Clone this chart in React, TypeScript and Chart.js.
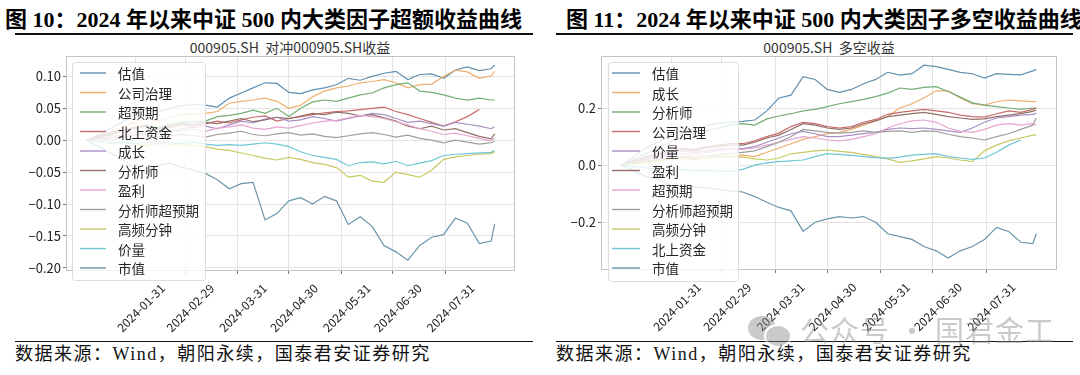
import React, { useEffect, useRef } from "react";
import { Chart, registerables } from "chart.js";
Chart.register(...registerables);

// ---- data ----
const tradeDays = [2, 9, 16, 23, 30, 37, 44, 51, 58, 65, 72, 79, 86, 93, 100, 107, 114, 121, 128, 135, 142, 149, 156, 163, 170, 177, 184, 191, 198, 205, 212, 219, 226, 233, 240, 242];
const monthEndDays = [31, 60, 91, 121, 152, 182, 213];
const monthEndLabels = ["2024-01-31", "2024-02-29", "2024-03-31", "2024-04-30", "2024-05-31", "2024-06-30", "2024-07-31"];

const leftYTicks = [-0.2, -0.15, -0.1, -0.05, 0, 0.05, 0.1];
const rightYTicks = [-0.2, 0, 0.2];

const leftNames = ["估值", "公司治理", "超预期", "北上资金", "成长", "分析师", "盈利", "分析师超预期", "高频分钟", "价量", "市值"];
const rightNames = ["估值", "成长", "分析师", "公司治理", "价量", "盈利", "超预期", "分析师超预期", "高频分钟", "北上资金", "市值"];

// excess return vs 000905.SH
const exValuation = [0, 0.008, 0.018, 0.028, 0.04, 0.048, 0.044, 0.05, 0.054, 0.056, 0.055, 0.052, 0.066, 0.074, 0.082, 0.09, 0.089, 0.075, 0.073, 0.079, 0.082, 0.087, 0.097, 0.094, 0.1, 0.105, 0.108, 0.095, 0.103, 0.104, 0.097, 0.11, 0.115, 0.109, 0.112, 0.118];
const exGovernance = [0, 0.004, 0.012, 0.02, 0.028, 0.034, 0.03, 0.036, 0.04, 0.041, 0.042, 0.045, 0.058, 0.061, 0.063, 0.066, 0.061, 0.05, 0.055, 0.068, 0.077, 0.082, 0.085, 0.09, 0.092, 0.095, 0.09, 0.082, 0.087, 0.088, 0.1, 0.11, 0.107, 0.097, 0.101, 0.108];
const exSurprise = [0, 0.004, 0.008, 0.014, 0.02, 0.024, 0.02, 0.025, 0.028, 0.029, 0.03, 0.037, 0.039, 0.042, 0.047, 0.042, 0.05, 0.037, 0.05, 0.06, 0.063, 0.061, 0.066, 0.071, 0.074, 0.082, 0.087, 0.09, 0.077, 0.075, 0.071, 0.066, 0.063, 0.066, 0.063, 0.063];
const exNorthbound = [0, 0.006, 0.012, 0.016, 0.02, 0.022, 0.018, 0.02, 0.024, 0.022, 0.026, 0.03, 0.027, 0.032, 0.036, 0.038, 0.03, 0.034, 0.037, 0.04, 0.043, 0.045, 0.046, 0.048, 0.05, 0.052, 0.045, 0.04, 0.034, 0.028, 0.022, 0.029, 0.037, 0.048, null, null];
const exGrowth = [0, 0.003, 0.0, 0.004, 0.008, 0.012, 0.01, 0.014, 0.018, 0.02, 0.022, 0.018, 0.024, 0.03, 0.027, 0.033, 0.036, 0.03, 0.032, 0.037, 0.034, 0.03, 0.034, 0.038, 0.042, 0.04, 0.034, 0.028, 0.03, 0.026, 0.022, 0.028, 0.025, 0.022, 0.018, 0.021];
const exAnalyst = [0, 0.005, 0.01, 0.014, 0.018, 0.022, 0.018, 0.022, 0.026, 0.025, 0.028, 0.026, 0.03, 0.034, 0.029, 0.032, 0.036, 0.034, 0.038, 0.042, 0.04, 0.044, 0.042, 0.038, 0.04, 0.035, 0.03, 0.022, 0.018, 0.022, 0.016, 0.018, 0.012, 0.006, 0.002, 0.01];
const exProfit = [0, 0.002, 0.006, 0.008, 0.011, 0.014, 0.011, 0.013, 0.015, 0.017, 0.014, 0.019, 0.021, 0.024, 0.019, 0.017, 0.021, 0.019, 0.023, 0.027, 0.03, 0.031, 0.035, 0.039, 0.037, 0.034, 0.029, 0.024, 0.018, 0.014, 0.009, 0.011, 0.007, 0.003, -0.001, 0.003];
const exAnalystSurprise = [0, 0.002, 0.004, 0.005, 0.007, 0.009, 0.005, 0.007, 0.009, 0.007, 0.005, 0.009, 0.011, 0.014, 0.009, 0.007, 0.01, 0.012, 0.008, 0.01, 0.006, 0.004, 0.007, 0.01, 0.012, 0.009, 0.005, 0.008, 0.003, 0.0, -0.004, 0.0, -0.003, -0.006, -0.004, -0.002];
const exHighFreq = [0, -0.002, -0.005, -0.004, -0.006, -0.008, -0.005, -0.006, -0.008, -0.008, -0.01, -0.014, -0.016, -0.02, -0.024, -0.028, -0.031, -0.027, -0.03, -0.035, -0.038, -0.043, -0.058, -0.055, -0.064, -0.066, -0.05, -0.054, -0.058, -0.047, -0.03, -0.026, -0.024, -0.022, -0.021, -0.018];
const exPriceVolume = [0, -0.002, -0.004, -0.003, -0.005, -0.004, -0.002, -0.004, -0.005, -0.003, -0.006, -0.008, -0.007, -0.008, -0.006, -0.004, -0.006, -0.01, -0.018, -0.024, -0.027, -0.03, -0.04, -0.035, -0.034, -0.037, -0.033, -0.04, -0.036, -0.032, -0.024, -0.022, -0.021, -0.02, -0.019, -0.016];
const exSize = [0, -0.01, -0.02, -0.03, -0.044, -0.05, -0.04, -0.036, -0.042, -0.047, -0.052, -0.062, -0.076, -0.068, -0.066, -0.125, -0.115, -0.095, -0.09, -0.1, -0.088, -0.095, -0.132, -0.12, -0.135, -0.165, -0.175, -0.188, -0.165, -0.152, -0.148, -0.122, -0.13, -0.162, -0.158, -0.131];

// long-short return
const lsValuation = [0, 0.03, 0.06, 0.08, 0.105, 0.12, 0.125, 0.138, 0.148, 0.15, 0.153, 0.158, 0.19, 0.235, 0.245, 0.31, 0.3, 0.265, 0.255, 0.265, 0.285, 0.3, 0.325, 0.315, 0.32, 0.35, 0.345, 0.335, 0.325, 0.32, 0.305, 0.32, 0.318, 0.316, 0.33, 0.335];
const lsGrowth = [0, 0.005, 0.01, 0.015, 0.02, 0.025, 0.02, 0.025, 0.03, 0.03, 0.035, 0.03, 0.045, 0.06, 0.075, 0.09, 0.1, 0.11, 0.115, 0.125, 0.14, 0.155, 0.17, 0.2, 0.215, 0.235, 0.26, 0.26, 0.235, 0.215, 0.21, 0.222, 0.228, 0.225, 0.222, 0.222];
const lsAnalyst = [0, 0.02, 0.04, 0.06, 0.08, 0.1, 0.11, 0.12, 0.13, 0.14, 0.145, 0.14, 0.162, 0.172, 0.18, 0.19, 0.195, 0.205, 0.215, 0.222, 0.23, 0.24, 0.252, 0.27, 0.265, 0.272, 0.275, 0.258, 0.238, 0.218, 0.21, 0.205, 0.2, 0.195, 0.2, 0.199];
const lsGovernance = [0, 0.015, 0.03, 0.04, 0.05, 0.06, 0.055, 0.065, 0.07, 0.075, 0.075, 0.085, 0.1, 0.112, 0.135, 0.15, 0.145, 0.135, 0.13, 0.135, 0.15, 0.16, 0.178, 0.185, 0.19, 0.195, 0.19, 0.185, 0.175, 0.17, 0.168, 0.18, 0.19, 0.185, 0.195, 0.2];
const lsPriceVolume = [0, 0.01, 0.02, 0.03, 0.04, 0.05, 0.045, 0.05, 0.055, 0.06, 0.058, 0.065, 0.08, 0.095, 0.11, 0.118, 0.11, 0.1, 0.1, 0.105, 0.11, 0.115, 0.125, 0.13, 0.128, 0.13, 0.125, 0.12, 0.115, 0.13, 0.15, 0.165, 0.17, 0.175, 0.178, 0.181];
const lsProfit = [0, 0.012, 0.025, 0.035, 0.045, 0.055, 0.05, 0.06, 0.065, 0.07, 0.07, 0.08, 0.095, 0.105, 0.125, 0.145, 0.14, 0.13, 0.125, 0.13, 0.145, 0.155, 0.17, 0.175, 0.18, 0.185, 0.178, 0.17, 0.165, 0.16, 0.162, 0.17, 0.175, 0.18, 0.188, 0.193];
const lsSurprise = [0, 0.01, 0.018, 0.025, 0.035, 0.04, 0.038, 0.045, 0.05, 0.055, 0.055, 0.06, 0.07, 0.08, 0.09, 0.1, 0.095, 0.088, 0.085, 0.09, 0.1, 0.11, 0.13, 0.145, 0.155, 0.158, 0.15, 0.13, 0.118, 0.115, 0.125, 0.14, 0.145, 0.14, 0.145, 0.14];
const lsAnalystSurprise = [0, 0.008, 0.015, 0.02, 0.025, 0.03, 0.028, 0.032, 0.035, 0.04, 0.045, 0.05, 0.065, 0.08, 0.1, 0.125, 0.12, 0.115, 0.112, 0.115, 0.12, 0.115, 0.118, 0.12, 0.115, 0.12, 0.118, 0.108, 0.1, 0.095, 0.088, 0.1, 0.11, 0.125, 0.14, 0.165];
const lsHighFreq = [0, 0.005, 0.01, 0.015, 0.02, 0.025, 0.022, 0.025, 0.028, 0.03, 0.028, 0.022, 0.018, 0.025, 0.04, 0.045, 0.05, 0.053, 0.048, 0.045, 0.038, 0.03, 0.022, 0.01, 0.015, 0.022, 0.03, 0.025, 0.018, 0.012, 0.05, 0.07, 0.085, 0.095, 0.105, 0.105];
const lsNorthbound = [0, -0.005, -0.01, -0.015, -0.02, -0.015, -0.02, -0.018, -0.02, -0.022, -0.015, 0.0, 0.008, 0.012, 0.015, 0.018, 0.03, 0.04, 0.038, 0.034, 0.03, 0.026, 0.024, 0.028, 0.035, 0.038, 0.04, 0.03, 0.025, 0.02, 0.025, 0.045, 0.07, 0.088, null, null];
const lsSize = [0, -0.02, -0.04, -0.05, -0.07, -0.085, -0.075, -0.08, -0.085, -0.09, -0.094, -0.11, -0.13, -0.148, -0.16, -0.232, -0.2, -0.188, -0.18, -0.185, -0.18, -0.2, -0.24, -0.25, -0.26, -0.285, -0.3, -0.325, -0.3, -0.285, -0.26, -0.218, -0.232, -0.27, -0.275, -0.24];

const leftSeries = [exValuation, exGovernance, exSurprise, exNorthbound, exGrowth, exAnalyst, exProfit, exAnalystSurprise, exHighFreq, exPriceVolume, exSize];
const rightSeries = [lsValuation, lsGrowth, lsAnalyst, lsGovernance, lsPriceVolume, lsProfit, lsSurprise, lsAnalystSurprise, lsHighFreq, lsNorthbound, lsSize];

// ---- styles ----
const palette = ["#6390b0", "#f0ae6e", "#74ae74", "#c86a6a", "#a990c4", "#927068", "#e5a5cf", "#9e9e9e", "#c8c862", "#6fc6d4", "#6a95ab"];
const tickFont = '"Noto Sans CJK SC", "Noto Sans", sans-serif';

type Cfg = {
  names: string[];
  series: (number | null)[][];
  yMin: number;
  yMax: number;
  yTicks: number[];
  fmt: (v: number) => string;
  yWidth: number;
  padR: number;
  xHeight: number;
  legend: { x: number; y: number; w: number; h: number; lx0: number; lx1: number; tx: number; ry: number; step: number };
};

function LineChart({ cfg, left }: { cfg: Cfg; left: number }) {
  const ref = useRef<HTMLCanvasElement>(null);
  useEffect(() => {
    const canvas = ref.current;
    if (!canvas) return;
    const n = cfg.names.length;
    const datasets = cfg.names.map((name, i) => ({
      label: name,
      data: tradeDays.map((d, j) => ({ x: d, y: cfg.series[i][j] })),
      borderColor: palette[i],
      backgroundColor: palette[i],
      borderWidth: 1.2,
      pointRadius: 0,
      tension: 0,
      spanGaps: false,
      order: n - i,
    }));
    const frame = {
      id: "frame",
      afterDatasetsDraw(chart: any) {
        const { ctx, chartArea: a } = chart;
        ctx.save();
        ctx.strokeStyle = "#c4c4c4";
        ctx.lineWidth = 1;
        ctx.strokeRect(a.left + 0.5, a.top + 0.5, a.right - a.left - 1, a.bottom - a.top - 1);
        ctx.restore();
      },
    };
    const L = cfg.legend;
    const legendPlugin = {
      id: "boxLegend",
      afterDraw(chart: any) {
        const ctx = chart.ctx;
        ctx.save();
        ctx.fillStyle = "rgba(255,255,255,0.8)";
        ctx.strokeStyle = "#dcdcdc";
        ctx.lineWidth = 1;
        ctx.beginPath();
        (ctx as any).roundRect(L.x + 0.5, L.y + 0.5, L.w, L.h, 3);
        ctx.fill();
        ctx.stroke();
        ctx.font = '13.5px "Noto Sans CJK SC"';
        ctx.textBaseline = "middle";
        cfg.names.forEach((name, i) => {
          const y = L.ry + i * L.step;
          ctx.strokeStyle = palette[i];
          ctx.lineWidth = 1.4;
          ctx.beginPath();
          ctx.moveTo(L.lx0, y);
          ctx.lineTo(L.lx1, y);
          ctx.stroke();
          ctx.fillStyle = "#262626";
          ctx.fillText(name, L.tx, y + 1);
        });
        ctx.restore();
      },
    };
    const chart = new Chart(canvas, {
      type: "line",
      data: { datasets },
      plugins: [frame, legendPlugin],
      options: {
        animation: false,
        responsive: false,
        devicePixelRatio: 1,
        layout: { padding: { left: 0, right: cfg.padR, top: 16, bottom: 0 } },
        plugins: { legend: { display: false }, tooltip: { enabled: false }, title: { display: false } },
        scales: {
          x: {
            type: "linear",
            min: -10,
            max: 254,
            afterBuildTicks: (s: any) => {
              s.ticks = monthEndDays.map((v) => ({ value: v }));
            },
            afterFit: (s: any) => {
              s.height = cfg.xHeight;
            },
            grid: { color: "#e4e4e4", lineWidth: 1, drawTicks: true, tickLength: 3, tickColor: "#777" },
            border: { display: false },
            ticks: {
              autoSkip: false,
              minRotation: 45,
              maxRotation: 45,
              labelOffset: 27,
              padding: 7,
              color: "#222",
              font: { family: tickFont, size: 12 },
              callback: (_v: any, i: number) => monthEndLabels[i],
            },
          },
          y: {
            type: "linear",
            min: cfg.yMin,
            max: cfg.yMax,
            afterBuildTicks: (s: any) => {
              s.ticks = cfg.yTicks.map((v) => ({ value: v }));
            },
            afterFit: (s: any) => {
              s.width = cfg.yWidth;
            },
            grid: { color: "#e4e4e4", lineWidth: 1, drawTicks: true, tickLength: 3, tickColor: "#777" },
            border: { display: false },
            ticks: {
              padding: 2,
              color: "#222",
              font: { family: tickFont, size: 13 },
              callback: (v: any) => cfg.fmt(Number(v)),
            },
          },
        },
      },
    } as any);
    return () => chart.destroy();
  }, []);
  return <canvas ref={ref} width={540} height={300} style={{ position: "absolute", left, top: 40, width: 540, height: 300 }} />;
}

const minus = (v: number, d: number) => (v < 0 ? "\u2212" : "") + Math.abs(v).toFixed(d);

const leftCfg: Cfg = {
  names: leftNames,
  series: leftSeries,
  yMin: -0.205,
  yMax: 0.132,
  yTicks: leftYTicks,
  fmt: (v) => minus(v, 2),
  yWidth: 66,
  padR: 25,
  xHeight: 69,
  legend: { x: 72, y: 22, w: 133, h: 218, lx0: 80, lx1: 106, tx: 118, ry: 33, step: 19.5 },
};
const rightCfg: Cfg = {
  names: rightNames,
  series: rightSeries,
  yMin: -0.367,
  yMax: 0.382,
  yTicks: rightYTicks,
  fmt: (v) => minus(v, 1),
  yWidth: 61,
  padR: 23,
  xHeight: 70,
  legend: { x: 68, y: 22, w: 130, h: 219, lx0: 72, lx1: 100, tx: 112, ry: 33, step: 19.5 },
};

const figTitle: React.CSSProperties = {
  position: "absolute",
  top: 6,
  fontSize: 22,
  fontWeight: "bold",
  fontFamily: '"Liberation Serif", "Noto Sans CJK SC", serif',
  whiteSpace: "nowrap",
  color: "#000",
  lineHeight: "28px",
};
const chartTitle: React.CSSProperties = {
  position: "absolute",
  top: 38,
  fontSize: 14,
  fontFamily: tickFont,
  whiteSpace: "pre",
  color: "#333",
  transform: "translateX(-50%)",
  lineHeight: "18px",
};
const source: React.CSSProperties = {
  position: "absolute",
  top: 342,
  fontSize: 18,
  letterSpacing: 1.5,
  fontFamily: '"Liberation Serif", "Noto Sans CJK SC", serif',
  whiteSpace: "nowrap",
  color: "#111",
  lineHeight: "24px",
};
const rule = (left: number, top: number, width: number): React.CSSProperties => ({
  position: "absolute",
  left,
  top,
  width,
  height: 1.5,
  background: "#111",
});

export default function App() {
  useEffect(() => {
    document.body.style.margin = "0";
  }, []);
  return (
    <div style={{ position: "relative", width: 1080, height: 375, background: "#fff", overflow: "hidden" }}>
      <div style={{ ...figTitle, left: 5 }}>图 10：2024 年以来中证 500 内大类因子超额收益曲线</div>
      <div style={{ ...figTitle, left: 566 }}>图 11：2024 年以来中证 500 内大类因子多空收益曲线</div>
      <div style={rule(15, 33, 518)} />
      <div style={rule(556, 33, 517)} />
      <div style={{ ...chartTitle, left: 290 }}>{"000905.SH  对冲000905.SH收益"}</div>
      <div style={{ ...chartTitle, left: 829 }}>{"000905.SH  多空收益"}</div>
      <LineChart cfg={leftCfg} left={0} />
      <LineChart cfg={rightCfg} left={540} />
      <div style={rule(15, 340.5, 518)} />
      <div style={rule(556, 340.5, 517)} />
      <div style={{ ...source, left: 15 }}>数据来源：Wind，朝阳永续，国泰君安证券研究</div>
      <div style={{ ...source, left: 556 }}>数据来源：Wind，朝阳永续，国泰君安证券研究</div>
      <div style={{ position: "absolute", left: 748, top: 312, width: 300, height: 34, pointerEvents: "none", opacity: 0.45 }}>
        <div style={{ position: "absolute", left: 0, top: 4, width: 28, height: 24, borderRadius: "50%", background: "#8a8a8a" }} />
        <div style={{ position: "absolute", left: 16, top: 12, width: 24, height: 20, borderRadius: "50%", background: "#8a8a8a", border: "2px solid #fff" }} />
        <div style={{ position: "absolute", left: 52, top: 0, fontSize: 29, lineHeight: "34px", color: "#8a8a8a", fontFamily: '"Noto Sans CJK SC"', whiteSpace: "nowrap", letterSpacing: 1 }}>公众号 · 国君金工</div>
      </div>
    </div>
  );
}
